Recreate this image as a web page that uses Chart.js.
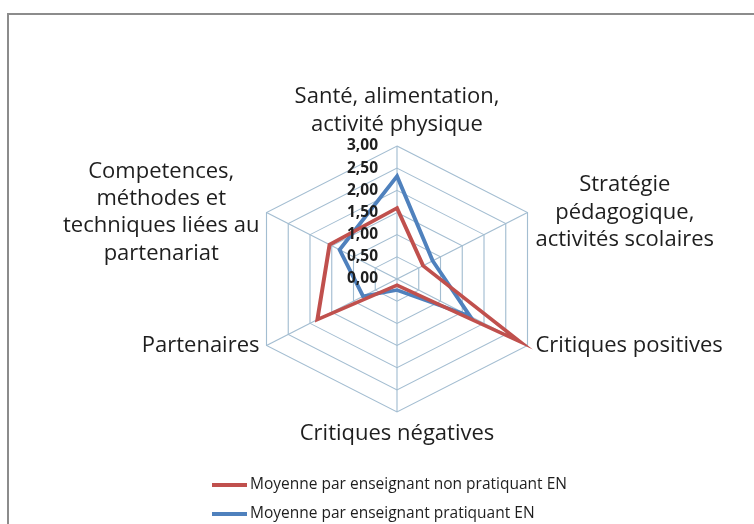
<!DOCTYPE html>
<html>
<head>
<meta charset="utf-8">
<script src="https://cdn.jsdelivr.net/npm/chart.js@4.4.1/dist/chart.umd.min.js"></script>
<style>
  html, body { margin: 0; padding: 0; background: #fff; }
  #wrap { position: relative; width: 754px; height: 524px; overflow: hidden; font-family: 'Open Sans', sans-serif; }
  #frame { position: absolute; left: 7px; top: 13px; width: 800px; height: 600px;
           border-top: 2px solid #8c8c8c; border-left: 2px solid #8c8c8c; }
  canvas { position: absolute; left: 0; top: 0; }
  #legend { position: absolute; left: 212px; top: 469px; font-size: 15.5px; color: #1e1e1e; }
  .item { height: 29px; line-height: 29px; white-space: nowrap; }
  .swatch { display: inline-block; width: 35px; height: 3.5px; vertical-align: middle; margin-right: 3px; }
</style>
</head>
<body>
<div id="wrap">
  <div id="frame"></div>
  <canvas id="radar" width="754" height="524"></canvas>
  <div id="legend"></div>
</div>
<script>
// axis categories (one array of lines per axis)
const categories = [
  ['Santé, alimentation,', 'activité physique'],
  ['Stratégie', 'pédagogique,', 'activités scolaires'],
  ['Critiques positives'],
  ['Critiques négatives'],
  ['Partenaires'],
  ['Competences,', 'méthodes et', 'techniques liées au', 'partenariat']
];

const seriesNames = [
  'Moyenne par enseignant non pratiquant EN',
  'Moyenne par enseignant pratiquant EN'
];

const nonPratiquant = [1.60, 0.60, 2.82, 0.14, 1.83, 1.55];
const pratiquant = [2.32, 0.82, 1.68, 0.25, 0.78, 1.32];

const seriesColors = ['#C0504D', '#4F81BD'];

// the original picture is a bit wider than tall
const SX = 1.133;

const stretchPlugin = {
  id: 'stretch',
  beforeDraw(chart) {
    const r = chart.scales.r;
    const ctx = chart.ctx;
    ctx.save();
    ctx.translate(r.xCenter, 0);
    ctx.scale(SX, 1);
    ctx.translate(-r.xCenter, 0);
  },
  afterDraw(chart) {
    const r = chart.scales.r;
    const ctx = chart.ctx;
    ctx.restore();

    ctx.save();
    // value axis labels, left of the vertical axis
    ctx.font = 'bold 15.5px "Open Sans"';
    ctx.fillStyle = '#1e1e1e';
    ctx.textAlign = 'right';
    ctx.textBaseline = 'middle';
    r.ticks.forEach(t => {
      const y = r.yCenter - r.getDistanceFromCenterForValue(t.value);
      ctx.fillText(t.label, r.xCenter - 19, y);
    });

    // category labels, centred lines
    ctx.font = '22px "Open Sans"';
    ctx.fillStyle = '#1e1e1e';
    ctx.textAlign = 'center';
    const lh = 27.3;
    chart.data.labels.forEach((lines, i) => {
      const p = r.getPointPosition(i, r.drawingArea);
      const vx = r.xCenter + (p.x - r.xCenter) * SX;
      const vy = p.y;
      const n = lines.length;
      const w = Math.max(...lines.map(l => ctx.measureText(l).width));
      const dx = vx - r.xCenter;
      let cx, y0;
      if (Math.abs(dx) < 1) {
        cx = vx;
        y0 = vy < r.yCenter ? vy - 21.5 - (n - 1) * lh : vy + 21.5;
      } else {
        cx = dx > 0 ? vx + 8 + w / 2 : vx - 7 - w / 2;
        y0 = vy - (n - 1) * lh / 2;
      }
      lines.forEach((l, j) => ctx.fillText(l, cx, y0 + j * lh));
    });
    ctx.restore();
  }
};

const chart = new Chart(document.getElementById('radar'), {
  type: 'radar',
  data: {
    labels: categories,
    datasets: [
      {
        label: seriesNames[0],
        data: nonPratiquant,
        borderColor: seriesColors[0],
        backgroundColor: seriesColors[0],
        borderWidth: 3.5,
        pointRadius: 0,
        fill: false
      },
      {
        label: seriesNames[1],
        data: pratiquant,
        borderColor: seriesColors[1],
        backgroundColor: seriesColors[1],
        borderWidth: 3.5,
        pointRadius: 0,
        fill: false
      }
    ]
  },
  options: {
    responsive: false,
    animation: false,
    layout: { padding: { left: 264, right: 224, top: 146, bottom: 112 } },
    plugins: {
      legend: { display: false },
      tooltip: { enabled: false }
    },
    scales: {
      r: {
        min: 0,
        max: 3,
        ticks: {
          stepSize: 0.5,
          display: false,
          callback: v => v.toFixed(2).replace('.', ',')
        },
        grid: { color: '#a3bdd1', lineWidth: 1 },
        angleLines: { color: '#a3bdd1', lineWidth: 1 },
        pointLabels: { display: false }
      }
    }
  },
  plugins: [stretchPlugin]
});

// legend stacked under the chart
const legend = document.getElementById('legend');
chart.data.datasets.forEach(ds => {
  const row = document.createElement('div');
  row.className = 'item';
  const sw = document.createElement('span');
  sw.className = 'swatch';
  sw.style.background = ds.borderColor;
  row.appendChild(sw);
  row.appendChild(document.createTextNode(ds.label));
  legend.appendChild(row);
});
</script>
</body>
</html>
